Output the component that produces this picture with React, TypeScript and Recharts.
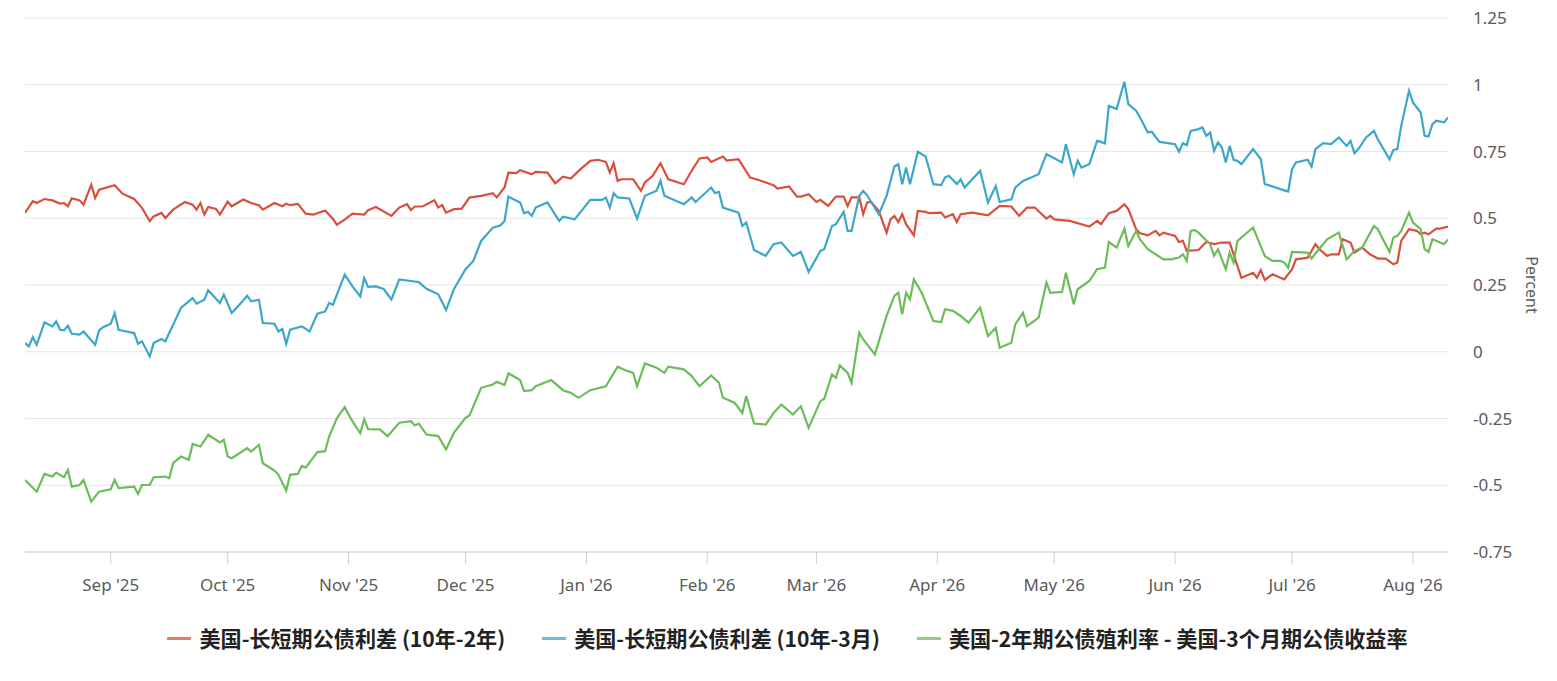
import { LineChart, Line, XAxis, YAxis, CartesianGrid, Legend } from 'recharts'

// 10y-2y spread
const redDates = [
  '2025-08-10', '2025-08-12', '2025-08-13', '2025-08-15', '2025-08-17', '2025-08-19', '2025-08-20', '2025-08-21',
  '2025-08-22', '2025-08-24', '2025-08-25', '2025-08-27', '2025-08-28', '2025-08-29', '2025-09-02', '2025-09-04',
  '2025-09-07', '2025-09-09', '2025-09-11', '2025-09-12', '2025-09-14', '2025-09-15', '2025-09-17', '2025-09-20',
  '2025-09-22', '2025-09-23', '2025-09-24', '2025-09-25', '2025-09-26', '2025-09-28', '2025-09-29', '2025-10-01',
  '2025-10-02', '2025-10-05', '2025-10-07', '2025-10-09', '2025-10-10', '2025-10-13', '2025-10-15', '2025-10-16',
  '2025-10-17', '2025-10-19', '2025-10-21', '2025-10-23', '2025-10-26', '2025-10-28', '2025-10-29', '2025-10-31',
  '2025-11-02', '2025-11-05', '2025-11-06', '2025-11-08', '2025-11-12', '2025-11-14', '2025-11-16', '2025-11-17',
  '2025-11-18', '2025-11-20', '2025-11-23', '2025-11-24', '2025-11-25', '2025-11-26', '2025-11-28', '2025-11-30',
  '2025-12-02', '2025-12-05', '2025-12-08', '2025-12-09', '2025-12-11', '2025-12-12', '2025-12-14', '2025-12-15',
  '2025-12-18', '2025-12-19', '2025-12-22', '2025-12-24', '2025-12-26', '2025-12-28', '2025-12-30', '2026-01-02',
  '2026-01-04', '2026-01-06', '2026-01-07', '2026-01-08', '2026-01-09', '2026-01-10', '2026-01-13', '2026-01-15',
  '2026-01-16', '2026-01-18', '2026-01-20', '2026-01-22', '2026-01-26', '2026-01-28', '2026-01-30', '2026-02-01',
  '2026-02-02', '2026-02-05', '2026-02-06', '2026-02-09', '2026-02-12', '2026-02-14', '2026-02-18', '2026-02-19',
  '2026-02-22', '2026-02-24', '2026-02-25', '2026-02-27', '2026-03-01', '2026-03-02', '2026-03-04', '2026-03-06',
  '2026-03-08', '2026-03-09', '2026-03-10', '2026-03-12', '2026-03-13', '2026-03-14', '2026-03-15', '2026-03-17',
  '2026-03-19', '2026-03-20', '2026-03-21', '2026-03-22', '2026-03-23', '2026-03-24', '2026-03-26', '2026-03-27',
  '2026-03-29', '2026-03-30', '2026-04-02', '2026-04-03', '2026-04-05', '2026-04-06', '2026-04-07', '2026-04-10',
  '2026-04-14', '2026-04-17', '2026-04-20', '2026-04-22', '2026-04-24', '2026-04-26', '2026-04-29', '2026-04-30',
  '2026-05-01', '2026-05-05', '2026-05-10', '2026-05-12', '2026-05-13', '2026-05-15', '2026-05-17', '2026-05-19',
  '2026-05-20', '2026-05-22', '2026-05-23', '2026-05-25', '2026-05-27', '2026-05-28', '2026-05-29', '2026-06-01',
  '2026-06-02', '2026-06-03', '2026-06-04', '2026-06-07', '2026-06-09', '2026-06-11', '2026-06-13', '2026-06-15',
  '2026-06-17', '2026-06-18', '2026-06-21', '2026-06-22', '2026-06-23', '2026-06-24', '2026-06-26', '2026-06-29',
  '2026-07-01', '2026-07-02', '2026-07-05', '2026-07-07', '2026-07-08', '2026-07-10', '2026-07-11', '2026-07-13',
  '2026-07-14', '2026-07-16', '2026-07-17', '2026-07-19', '2026-07-21', '2026-07-23', '2026-07-25', '2026-07-27',
  '2026-07-28', '2026-07-29', '2026-07-31', '2026-08-02', '2026-08-03', '2026-08-04', '2026-08-05', '2026-08-07',
  '2026-08-08', '2026-08-10',
]
const redValues = [
  0.52, 0.564, 0.557, 0.572, 0.567, 0.555, 0.557, 0.545,
  0.575, 0.567, 0.551, 0.626, 0.576, 0.607, 0.624, 0.592,
  0.572, 0.539, 0.489, 0.507, 0.52, 0.501, 0.532, 0.561,
  0.551, 0.532, 0.557, 0.514, 0.542, 0.535, 0.514, 0.562,
  0.545, 0.57, 0.557, 0.549, 0.532, 0.557, 0.545, 0.554,
  0.549, 0.554, 0.517, 0.514, 0.529, 0.497, 0.476, 0.495,
  0.517, 0.514, 0.53, 0.542, 0.509, 0.54, 0.5525, 0.531,
  0.544, 0.544, 0.5675, 0.54, 0.549, 0.521, 0.534, 0.536,
  0.5775, 0.584, 0.594, 0.578, 0.615, 0.671, 0.669, 0.68,
  0.665, 0.674, 0.671, 0.631, 0.656, 0.649, 0.6775, 0.715,
  0.719, 0.711, 0.671, 0.706, 0.64, 0.646, 0.646, 0.6025,
  0.634, 0.659, 0.706, 0.646, 0.6275, 0.678, 0.724, 0.728,
  0.711, 0.731, 0.716, 0.721, 0.6525, 0.644, 0.624, 0.611,
  0.619, 0.581, 0.581, 0.59, 0.561, 0.569, 0.546, 0.581,
  0.581, 0.546, 0.578, 0.578, 0.515, 0.559, 0.561, 0.5275,
  0.446, 0.496, 0.509, 0.486, 0.515, 0.478, 0.436, 0.5275,
  0.524, 0.519, 0.521, 0.503, 0.515, 0.486, 0.515, 0.521,
  0.511, 0.546, 0.544, 0.509, 0.54, 0.54, 0.499, 0.509,
  0.496, 0.49, 0.469, 0.49, 0.478, 0.519, 0.5275, 0.5525,
  0.534, 0.459, 0.444, 0.436, 0.453, 0.436, 0.446, 0.434,
  0.411, 0.415, 0.3775, 0.381, 0.411, 0.403, 0.409, 0.409,
  0.321, 0.2775, 0.296, 0.2775, 0.306, 0.269, 0.29, 0.271,
  0.309, 0.346, 0.3525, 0.4025, 0.384, 0.359, 0.365, 0.365,
  0.421, 0.409, 0.371, 0.39, 0.365, 0.349, 0.349, 0.3275,
  0.334, 0.415, 0.459, 0.453, 0.44, 0.446, 0.44, 0.461,
  0.461, 0.469,
]

// 10y-3m spread
const blueDates = [
  '2025-08-10', '2025-08-11', '2025-08-12', '2025-08-13', '2025-08-15', '2025-08-17', '2025-08-18', '2025-08-19',
  '2025-08-20', '2025-08-21', '2025-08-22', '2025-08-24', '2025-08-25', '2025-08-28', '2025-08-29', '2025-08-30',
  '2025-09-01', '2025-09-02', '2025-09-03', '2025-09-05', '2025-09-07', '2025-09-08', '2025-09-09', '2025-09-11',
  '2025-09-12', '2025-09-14', '2025-09-15', '2025-09-17', '2025-09-19', '2025-09-22', '2025-09-23', '2025-09-25',
  '2025-09-26', '2025-09-29', '2025-09-30', '2025-10-02', '2025-10-04', '2025-10-06', '2025-10-07', '2025-10-09',
  '2025-10-10', '2025-10-13', '2025-10-14', '2025-10-15', '2025-10-16', '2025-10-17', '2025-10-20', '2025-10-22',
  '2025-10-24', '2025-10-26', '2025-10-27', '2025-10-28', '2025-10-31', '2025-11-02', '2025-11-04', '2025-11-05',
  '2025-11-06', '2025-11-08', '2025-11-10', '2025-11-12', '2025-11-14', '2025-11-17', '2025-11-19', '2025-11-21',
  '2025-11-24', '2025-11-26', '2025-11-28', '2025-12-01', '2025-12-03', '2025-12-05', '2025-12-08', '2025-12-10',
  '2025-12-11', '2025-12-12', '2025-12-15', '2025-12-16', '2025-12-17', '2025-12-18', '2025-12-19', '2025-12-22',
  '2025-12-25', '2025-12-26', '2025-12-29', '2026-01-02', '2026-01-05', '2026-01-06', '2026-01-07', '2026-01-08',
  '2026-01-09', '2026-01-12', '2026-01-14', '2026-01-16', '2026-01-19', '2026-01-20', '2026-01-21', '2026-01-26',
  '2026-01-28', '2026-01-29', '2026-02-02', '2026-02-03', '2026-02-04', '2026-02-05', '2026-02-09', '2026-02-10',
  '2026-02-11', '2026-02-13', '2026-02-16', '2026-02-18', '2026-02-20', '2026-02-23', '2026-02-25', '2026-02-27',
  '2026-03-02', '2026-03-03', '2026-03-05', '2026-03-06', '2026-03-08', '2026-03-09', '2026-03-10', '2026-03-12',
  '2026-03-13', '2026-03-14', '2026-03-17', '2026-03-19', '2026-03-21', '2026-03-22', '2026-03-23', '2026-03-24',
  '2026-03-25', '2026-03-27', '2026-03-29', '2026-03-31', '2026-04-02', '2026-04-03', '2026-04-04', '2026-04-06',
  '2026-04-07', '2026-04-08', '2026-04-12', '2026-04-14', '2026-04-16', '2026-04-17', '2026-04-20', '2026-04-21',
  '2026-04-23', '2026-04-27', '2026-04-29', '2026-05-03', '2026-05-04', '2026-05-06', '2026-05-07', '2026-05-08',
  '2026-05-10', '2026-05-12', '2026-05-13', '2026-05-14', '2026-05-15', '2026-05-17', '2026-05-19', '2026-05-20',
  '2026-05-22', '2026-05-23', '2026-05-25', '2026-05-26', '2026-05-28', '2026-06-01', '2026-06-02', '2026-06-03',
  '2026-06-04', '2026-06-05', '2026-06-07', '2026-06-08', '2026-06-09', '2026-06-10', '2026-06-11', '2026-06-12',
  '2026-06-13', '2026-06-14', '2026-06-15', '2026-06-16', '2026-06-17', '2026-06-18', '2026-06-21', '2026-06-23',
  '2026-06-24', '2026-06-25', '2026-06-28', '2026-06-30', '2026-07-01', '2026-07-02', '2026-07-05', '2026-07-06',
  '2026-07-07', '2026-07-09', '2026-07-11', '2026-07-12', '2026-07-13', '2026-07-15', '2026-07-16', '2026-07-17',
  '2026-07-18', '2026-07-20', '2026-07-22', '2026-07-23', '2026-07-26', '2026-07-27', '2026-07-28', '2026-07-29',
  '2026-07-31', '2026-08-01', '2026-08-03', '2026-08-04', '2026-08-05', '2026-08-06', '2026-08-07', '2026-08-09',
  '2026-08-10',
]
const blueValues = [
  0.0325, 0.02, 0.055, 0.026, 0.11, 0.095, 0.114, 0.0825,
  0.08, 0.0975, 0.0675, 0.064, 0.076, 0.026, 0.08, 0.092,
  0.105, 0.145, 0.0825, 0.076, 0.07, 0.03, 0.039, -0.0175,
  0.0325, 0.0475, 0.039, 0.101, 0.164, 0.201, 0.18, 0.195,
  0.23, 0.1825, 0.214, 0.145, 0.176, 0.21, 0.189, 0.195,
  0.1075, 0.105, 0.076, 0.085, 0.03, 0.083, 0.095, 0.076,
  0.1425, 0.151, 0.183, 0.176, 0.289, 0.245, 0.2075, 0.276,
  0.243, 0.245, 0.235, 0.196, 0.271, 0.265, 0.261, 0.236,
  0.215, 0.156, 0.234, 0.309, 0.34, 0.415, 0.465, 0.474,
  0.49, 0.581, 0.559, 0.519, 0.524, 0.509, 0.54, 0.559,
  0.49, 0.506, 0.496, 0.569, 0.569, 0.5775, 0.54, 0.594,
  0.578, 0.574, 0.499, 0.584, 0.603, 0.64, 0.584, 0.5525,
  0.578, 0.561, 0.615, 0.594, 0.599, 0.54, 0.521, 0.471,
  0.484, 0.381, 0.359, 0.403, 0.409, 0.359, 0.374, 0.299,
  0.3775, 0.384, 0.471, 0.478, 0.524, 0.4525, 0.4525, 0.584,
  0.6025, 0.586, 0.515, 0.584, 0.694, 0.7025, 0.6275, 0.69,
  0.6275, 0.749, 0.731, 0.6275, 0.624, 0.653, 0.659, 0.628,
  0.646, 0.615, 0.6775, 0.559, 0.621, 0.561, 0.571, 0.615,
  0.64, 0.665, 0.74, 0.709, 0.7775, 0.665, 0.715, 0.69,
  0.7025, 0.79, 0.786, 0.78, 0.921, 0.909, 1.011, 0.9275,
  0.9025, 0.8775, 0.821, 0.824, 0.786, 0.7775, 0.749, 0.781,
  0.774, 0.8275, 0.834, 0.84, 0.809, 0.821, 0.7525, 0.784,
  0.765, 0.709, 0.771, 0.719, 0.715, 0.7025, 0.759, 0.721,
  0.6275, 0.624, 0.609, 0.6, 0.684, 0.709, 0.719, 0.694,
  0.759, 0.781, 0.778, 0.79, 0.8025, 0.771, 0.79, 0.744,
  0.759, 0.8025, 0.8275, 0.796, 0.721, 0.756, 0.759, 0.846,
  0.9775, 0.934, 0.896, 0.809, 0.806, 0.8525, 0.865, 0.859,
  0.8775,
]

// 2y yield minus 3m yield
const greenDates = [
  '2025-08-10', '2025-08-13', '2025-08-15', '2025-08-17', '2025-08-18', '2025-08-20', '2025-08-21', '2025-08-22',
  '2025-08-24', '2025-08-25', '2025-08-27', '2025-08-29', '2025-09-01', '2025-09-02', '2025-09-03', '2025-09-07',
  '2025-09-08', '2025-09-09', '2025-09-11', '2025-09-12', '2025-09-15', '2025-09-16', '2025-09-17', '2025-09-19',
  '2025-09-21', '2025-09-22', '2025-09-24', '2025-09-26', '2025-09-29', '2025-09-30', '2025-10-01', '2025-10-02',
  '2025-10-04', '2025-10-06', '2025-10-07', '2025-10-09', '2025-10-10', '2025-10-13', '2025-10-14', '2025-10-16',
  '2025-10-17', '2025-10-19', '2025-10-20', '2025-10-21', '2025-10-24', '2025-10-26', '2025-10-27', '2025-10-29',
  '2025-10-31', '2025-11-02', '2025-11-04', '2025-11-05', '2025-11-06', '2025-11-09', '2025-11-11', '2025-11-14',
  '2025-11-17', '2025-11-18', '2025-11-19', '2025-11-21', '2025-11-24', '2025-11-26', '2025-11-28', '2025-12-01',
  '2025-12-02', '2025-12-05', '2025-12-08', '2025-12-09', '2025-12-11', '2025-12-12', '2025-12-15', '2025-12-16',
  '2025-12-18', '2025-12-19', '2025-12-23', '2025-12-26', '2025-12-28', '2025-12-30', '2026-01-02', '2026-01-06',
  '2026-01-09', '2026-01-11', '2026-01-13', '2026-01-14', '2026-01-16', '2026-01-19', '2026-01-21', '2026-01-22',
  '2026-01-26', '2026-01-28', '2026-01-30', '2026-02-02', '2026-02-04', '2026-02-05', '2026-02-08', '2026-02-10',
  '2026-02-11', '2026-02-13', '2026-02-16', '2026-02-18', '2026-02-20', '2026-02-23', '2026-02-25', '2026-02-27',
  '2026-03-02', '2026-03-03', '2026-03-05', '2026-03-06', '2026-03-07', '2026-03-09', '2026-03-10', '2026-03-12',
  '2026-03-13', '2026-03-16', '2026-03-19', '2026-03-21', '2026-03-22', '2026-03-23', '2026-03-24', '2026-03-25',
  '2026-03-26', '2026-03-28', '2026-03-31', '2026-04-02', '2026-04-03', '2026-04-05', '2026-04-07', '2026-04-09',
  '2026-04-12', '2026-04-14', '2026-04-16', '2026-04-17', '2026-04-20', '2026-04-21', '2026-04-23', '2026-04-24',
  '2026-04-27', '2026-04-29', '2026-04-30', '2026-05-03', '2026-05-04', '2026-05-06', '2026-05-07', '2026-05-10',
  '2026-05-12', '2026-05-14', '2026-05-15', '2026-05-17', '2026-05-19', '2026-05-20', '2026-05-22', '2026-05-23',
  '2026-05-25', '2026-05-29', '2026-05-31', '2026-06-02', '2026-06-03', '2026-06-04', '2026-06-05', '2026-06-06',
  '2026-06-07', '2026-06-10', '2026-06-11', '2026-06-12', '2026-06-14', '2026-06-15', '2026-06-16', '2026-06-17',
  '2026-06-19', '2026-06-21', '2026-06-24', '2026-06-26', '2026-06-28', '2026-06-29', '2026-06-30', '2026-07-01',
  '2026-07-05', '2026-07-06', '2026-07-08', '2026-07-10', '2026-07-13', '2026-07-15', '2026-07-17', '2026-07-19',
  '2026-07-22', '2026-07-23', '2026-07-26', '2026-07-27', '2026-07-28', '2026-07-29', '2026-07-31', '2026-08-01',
  '2026-08-03', '2026-08-04', '2026-08-05', '2026-08-06', '2026-08-09', '2026-08-10',
]
const greenValues = [
  -0.48, -0.524, -0.4575, -0.4675, -0.4525, -0.47, -0.4425, -0.505,
  -0.499, -0.48, -0.561, -0.524, -0.515, -0.48, -0.511, -0.505,
  -0.5325, -0.499, -0.499, -0.47, -0.4675, -0.474, -0.4175, -0.3925,
  -0.405, -0.345, -0.355, -0.311, -0.34, -0.33, -0.3925, -0.399,
  -0.38, -0.361, -0.374, -0.349, -0.4175, -0.445, -0.461, -0.52,
  -0.461, -0.4575, -0.4275, -0.434, -0.376, -0.3725, -0.3175, -0.249,
  -0.2075, -0.261, -0.305, -0.2525, -0.29, -0.291, -0.316, -0.266,
  -0.26, -0.276, -0.269, -0.31, -0.316, -0.366, -0.304, -0.2475,
  -0.239, -0.135, -0.1225, -0.1125, -0.125, -0.081, -0.106, -0.1475,
  -0.144, -0.129, -0.106, -0.144, -0.154, -0.1725, -0.144, -0.129,
  -0.056, -0.069, -0.079, -0.129, -0.044, -0.06, -0.079, -0.056,
  -0.066, -0.091, -0.129, -0.089, -0.116, -0.1725, -0.191, -0.229,
  -0.166, -0.269, -0.2725, -0.229, -0.1975, -0.235, -0.204, -0.285,
  -0.185, -0.176, -0.085, -0.0975, -0.051, -0.079, -0.116, 0.071,
  0.046, -0.01, 0.134, 0.209, 0.221, 0.14, 0.221, 0.196,
  0.271, 0.221, 0.115, 0.111, 0.159, 0.153, 0.134, 0.109,
  0.165, 0.059, 0.09, 0.015, 0.034, 0.1025, 0.146, 0.096,
  0.1275, 0.259, 0.221, 0.224, 0.296, 0.1775, 0.234, 0.265,
  0.309, 0.315, 0.411, 0.39, 0.461, 0.396, 0.4525, 0.421,
  0.384, 0.346, 0.346, 0.353, 0.365, 0.34, 0.4525, 0.456,
  0.446, 0.4025, 0.359, 0.384, 0.309, 0.371, 0.334, 0.415,
  0.44, 0.465, 0.359, 0.34, 0.34, 0.334, 0.315, 0.374,
  0.371, 0.349, 0.386, 0.421, 0.446, 0.346, 0.378, 0.39,
  0.471, 0.459, 0.374, 0.428, 0.434, 0.4525, 0.521, 0.484,
  0.459, 0.384, 0.374, 0.421, 0.403, 0.421,
]

const monthTicks = [
  '2025-09-01', '2025-10-01', '2025-11-01', '2025-12-01', '2026-01-01', '2026-02-01',
  '2026-03-01', '2026-04-01', '2026-05-01', '2026-06-01', '2026-07-01', '2026-08-01',
]
const monthLabels = [
  "Sep '25", "Oct '25", "Nov '25", "Dec '25", "Jan '26", "Feb '26",
  "Mar '26", "Apr '26", "May '26", "Jun '26", "Jul '26", "Aug '26",
]
const yTicks = [-0.75, -0.5, -0.25, 0, 0.25, 0.5, 0.75, 1, 1.25]

const seriesNames = [
  '美国-长短期公债利差 (10年-2年)',
  '美国-长短期公债利差 (10年-3月)',
  '美国-2年期公债殖利率 - 美国-3个月期公债收益率',
]
const seriesColors = ['#d94f3d', '#3ba7c9', '#6cbd5a']

const toTime = (d: string) => Date.parse(d + 'T00:00:00Z')
const toPoints = (dates: string[], values: number[]) => dates.map((d, i) => ({ t: toTime(d), v: values[i] }))

const series = [
  { name: seriesNames[0], color: seriesColors[0], data: toPoints(redDates, redValues) },
  { name: seriesNames[1], color: seriesColors[1], data: toPoints(blueDates, blueValues) },
  { name: seriesNames[2], color: seriesColors[2], data: toPoints(greenDates, greenValues) },
]

const tickTimes = monthTicks.map(toTime)
const tickLabelByTime = new Map(tickTimes.map((t, i) => [t, monthLabels[i]]))
const xDomain = [toTime(redDates[0]), toTime(redDates[redDates.length - 1])]

const FONT = '"Noto Sans", "DejaVu Sans", sans-serif'
const CJK_FONT = '"Noto Sans CJK SC", "Noto Sans", sans-serif'

function LegendRow() {
  return (
    <div style={{ display: 'flex', justifyContent: 'center', alignItems: 'center', gap: 37, height: 30, paddingLeft: 18 }}>
      {series.map((s) => (
        <div key={s.name} style={{ display: 'flex', alignItems: 'center' }}>
          <span style={{ display: 'inline-block', width: 24, height: 3, background: s.color, opacity: 0.75, marginRight: 8 }} />
          <span style={{ fontFamily: CJK_FONT, fontSize: 21.1, fontWeight: 700, color: '#222', whiteSpace: 'nowrap' }}>{s.name}</span>
        </div>
      ))}
    </div>
  )
}

function PercentLabel(props: any) {
  const { x, y, width, height } = props.viewBox
  const cx = x + width - 6
  const cy = y + height / 2
  return (
    <text x={cx} y={cy} transform={`rotate(90 ${cx} ${cy})`} textAnchor="middle" dominantBaseline="central" fill="#5a5a5a" fontSize={16} fontFamily={FONT}>
      Percent
    </text>
  )
}

export default function App() {
  return (
    <div style={{ position: 'absolute', left: 0, top: 0, width: 1557, height: 681, background: '#fff' }}>
      <LineChart width={1557} height={681} margin={{ top: 18, right: 19, left: 25, bottom: 28 }}>
        <CartesianGrid vertical={false} stroke="#e6e6e6" />
        <XAxis
          dataKey="t"
          type="number"
          domain={xDomain}
          ticks={tickTimes}
          tickFormatter={(t) => tickLabelByTime.get(t) ?? ''}
          allowDataOverflow
          height={71}
          tickSize={12}
          tickMargin={15}
          axisLine={{ stroke: '#cfcfcf' }}
          tickLine={{ stroke: '#cfcfcf' }}
          tick={{ fill: '#5a5a5a', fontSize: 17, fontFamily: FONT }}
        />
        <YAxis
          orientation="right"
          domain={[-0.75, 1.25]}
          ticks={yTicks}
          width={90}
          axisLine={false}
          tickLine={false}
          tickSize={6}
          tickMargin={19}
          tick={{ fill: '#5a5a5a', fontSize: 17, fontFamily: FONT }}
          label={<PercentLabel />}
        />
        <Legend verticalAlign="bottom" content={() => <LegendRow />} wrapperStyle={{ left: 0, width: 1557 }} />
        {series.map((s) => (
          <Line
            key={s.name}
            data={s.data}
            dataKey="v"
            name={s.name}
            type="linear"
            stroke={s.color}
            strokeWidth={2.2}
            dot={false}
            activeDot={false}
            isAnimationActive={false}
          />
        ))}
      </LineChart>
    </div>
  )
}
